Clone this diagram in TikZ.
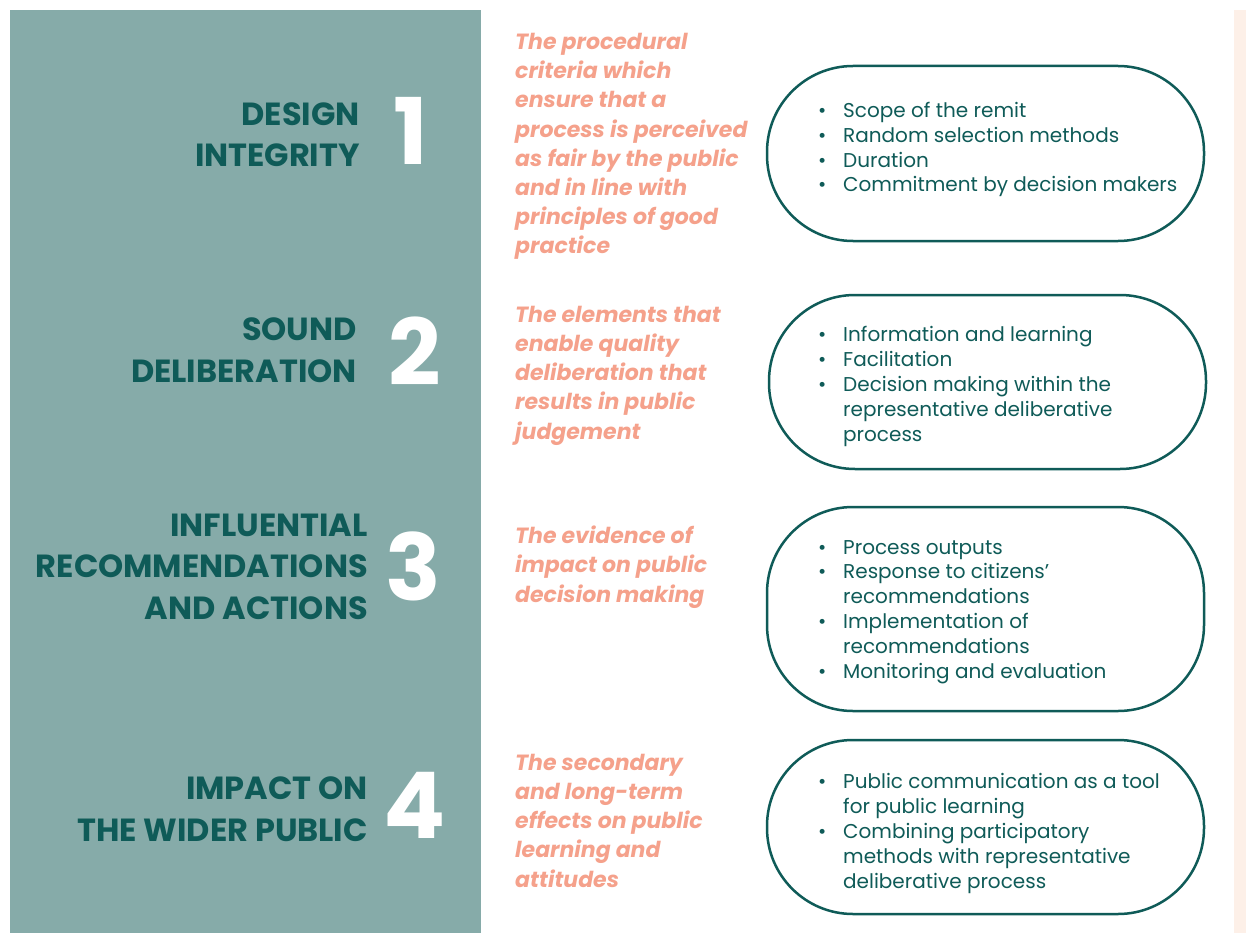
\documentclass[tikz,border=0pt]{standalone}
\usepackage{fontspec}
\setmainfont{Poppins}
\definecolor{panel}{HTML}{86ABA9}
\definecolor{dark}{HTML}{0F5B58}
\definecolor{salmon}{HTML}{F5A18B}
\definecolor{peach}{HTML}{FDF0E8}
\newcommand{\bul}{\makebox[26pt][l]{\hspace{1pt}•}}
\newcommand{\cont}{\hspace{26pt}}
\begin{document}
\begin{tikzpicture}[x=1pt,y=-1pt,
  title/.style={font=\fontsize{32}{41.5}\selectfont\bfseries, text=dark, align=right, anchor=base east, inner sep=0pt},
  num/.style={font=\fontsize{92}{92}\selectfont\bfseries, text=white, anchor=base, inner sep=0pt},
  desc/.style={font=\fontsize{22}{29.2}\selectfont\bfseries\itshape, text=salmon, align=left, anchor=base west, inner sep=0pt},
  pill/.style={draw=dark, line width=2.5pt, rounded corners=86pt},
  items/.style={font=\fontsize{20}{24.8}\selectfont, text=dark, align=left, anchor=base west, inner sep=0pt}]
\useasboundingbox (0,0) rectangle (1246,933);
\fill[white] (0,0) rectangle (1246,933);
\fill[panel] (10,10) rectangle (481,933);
\fill[peach] (1234,10) rectangle (1246,933);

% Row 1
\node[title] (t1) at (360,167) {DESIGN\\INTEGRITY};
\node[num] (n1) at (411,165) {1};
\node[desc] (d1) at (515,254) {The procedural\\criteria which\\ensure that a\\process is perceived\\as fair by the public\\and in line with\\principles of good\\practice};
\draw[pill] (767,66) rectangle (1204,241);
\node[items] (i1) at (817,192) {\bul Scope of the remit\\\bul Random selection methods\\\bul Duration\\\bul Commitment by decision makers};

% Row 2
\node[title] (t2) at (357,382) {SOUND\\DELIBERATION};
\node[num] (n2) at (415,385) {2};
\node[desc] (d2) at (515,439) {The elements that\\enable quality\\deliberation that\\results in public\\judgement};
\draw[pill] (769,295) rectangle (1206,469);
\node[items] (i2) at (817,441) {\bul Information and learning\\\bul Facilitation\\\bul Decision making within the\\\cont representative deliberative\\\cont process};

% Row 3
\node[title] (t3) at (368,619) {INFLUENTIAL\\RECOMMENDATIONS\\AND ACTIONS};
\node[num] (n3) at (413,600) {3};
\node[desc] (d3) at (515,602) {The evidence of\\impact on public\\decision making};
\draw[pill] (767,507) rectangle (1204,711);
\node[items] (i3) at (817,678) {\bul Process outputs\\\bul Response to citizens’\\\cont recommendations\\\bul Implementation of\\\cont recommendations\\\bul Monitoring and evaluation};

% Row 4
\node[title] (t4) at (368,841) {IMPACT ON\\THE WIDER PUBLIC};
\node[num] (n4) at (415,838) {4};
\node[desc] (d4) at (515,887) {The secondary\\and long-term\\effects on public\\learning and\\attitudes};
\draw[pill] (767,740) rectangle (1204,914);
\node[items] (i4) at (817,888) {\bul Public communication as a tool\\\cont for public learning\\\bul Combining participatory\\\cont methods with representative\\\cont deliberative process};
\end{tikzpicture}
\end{document}
